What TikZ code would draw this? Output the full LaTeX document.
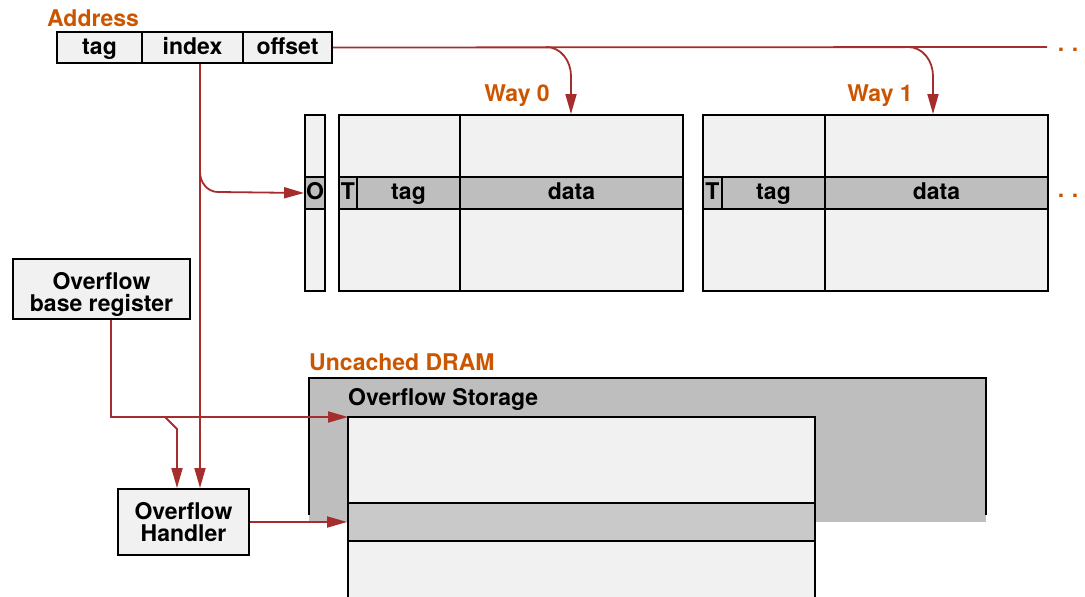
\documentclass[tikz,border=0pt]{standalone}
\usepackage{fontspec}
\setmainfont{TeX Gyre Heros}
\usetikzlibrary{arrows.meta}
\definecolor{wirered}{RGB}{165,45,45}
\definecolor{lblorange}{RGB}{204,85,0}
\definecolor{cellbg}{RGB}{241,241,241}
\definecolor{rowbg}{RGB}{190,190,190}
\definecolor{slotbg}{RGB}{201,201,201}
\begin{document}
\begin{tikzpicture}[x=1pt,y=-1pt,
  font=\bfseries\fontsize{23}{22}\selectfont,
  cell/.style={draw=black,line width=1.9pt,fill=cellbg,rectangle,inner sep=0pt,
    text height=17pt,text depth=4pt},
  rowcell/.style={cell,fill=rowbg},
  title/.style={text=lblorange,inner sep=0pt},
  wire/.style={draw=wirered,line width=1.8pt},
  arr/.style={wire,-{Triangle[length=20pt,width=11pt]}},
  dots/.style={text=lblorange,inner sep=0pt}]
\useasboundingbox (0,0) rectangle (1085,597);

% ---------- address register ----------
\node[title,anchor=west] (addrlbl) at (47,18) {Address};
\node[cell,minimum width=85pt,minimum height=31pt] (atag) at (99.5,47.5) {tag};
\node[cell,minimum width=101pt,minimum height=31pt] (aindex) at (192.5,47.5) {index};
\node[cell,minimum width=89pt,minimum height=31pt] (aoff) at (287.5,47.5) {offset};

% ---------- overflow bit column ----------
\node[cell,minimum width=20pt,minimum height=176pt] (ocol) at (315,203) {};
\node[rowcell,minimum width=20pt,minimum height=32pt] (obit) at (315,193) {O};

% ---------- way 0 ----------
\node[title] (w0lbl) at (517,96) {Way 0};
\node[cell,minimum width=344pt,minimum height=176pt] (way0) at (511,203) {};
\draw[line width=1.9pt] (460,115) -- (460,291);
\node[rowcell,minimum width=18pt,minimum height=32pt] (t0) at (348,193) {T};
\node[rowcell,minimum width=103pt,minimum height=32pt] (tag0) at (408.5,193) {tag};
\node[rowcell,minimum width=223pt,minimum height=32pt] (data0) at (571.5,193) {data};

% ---------- way 1 ----------
\node[title] (w1lbl) at (880,96) {Way 1};
\node[cell,minimum width=345pt,minimum height=176pt] (way1) at (875.5,203) {};
\draw[line width=1.9pt] (825,115) -- (825,291);
\node[rowcell,minimum width=19pt,minimum height=32pt] (t1) at (712.5,193) {T};
\node[rowcell,minimum width=103pt,minimum height=32pt] (tag1) at (773.5,193) {tag};
\node[rowcell,minimum width=223pt,minimum height=32pt] (data1) at (936.5,193) {data};

% more ways continue to the right
\node[dots] (moretop) at (1068,50) {.\,\,.};
\node[dots] (morerow) at (1068,196) {.\,\,.};

% ---------- uncached DRAM ----------
\node[title,anchor=west] (dramlbl) at (309,362) {Uncached DRAM};
\fill[rowbg] (309,378) rectangle (986,522);
\draw[line width=1.9pt] (309,515) -- (309,378) -- (986,378) -- (986,515);
\node[anchor=west,inner sep=0pt] (storlbl) at (348,399) {Overflow Storage};
\fill[cellbg] (348,417) rectangle (815,597);
\draw[line width=1.9pt] (348,597) -- (348,417) -- (815,417) -- (815,597);
\node[cell,fill=slotbg,minimum width=467pt,minimum height=38pt] (slot) at (581.5,522) {};
\coordinate (storetop) at (348,417);

% ---------- overflow logic ----------
\node[cell,minimum width=177pt,minimum height=60pt,align=center,
  text height=50pt,text depth=5pt] (basereg) at (101.5,289) {Overflow\\base register};
\node[cell,minimum width=131pt,minimum height=66pt,align=center,
  text height=,text depth=] (handler) at (183.5,522) {Overflow\\Handler};

% ---------- wires ----------
\coordinate (offend) at (1047,47);
\draw[wire] (aoff.east) -- (offend);
\draw[arr] (546,47) to[out=0,in=90] (571,76) -- (way0.north -| 571,0);
\draw[arr] (908,47) to[out=0,in=90] (933,76) -- (way1.north -| 933,0);

\draw[arr] (aindex.south -| 200,0) -- (handler.north -| 200,0);
\draw[arr] (200,172) to[out=-90,in=180] (218,192) -- (obit.west);

\draw[arr] (basereg.south -| 111,0) -- (111,417) -- (storetop);
\draw[arr] (165,417) -- (177,429) -- (handler.north -| 177,0);
\draw[arr] (handler.east) -- (slot.west);
\end{tikzpicture}
\end{document}
